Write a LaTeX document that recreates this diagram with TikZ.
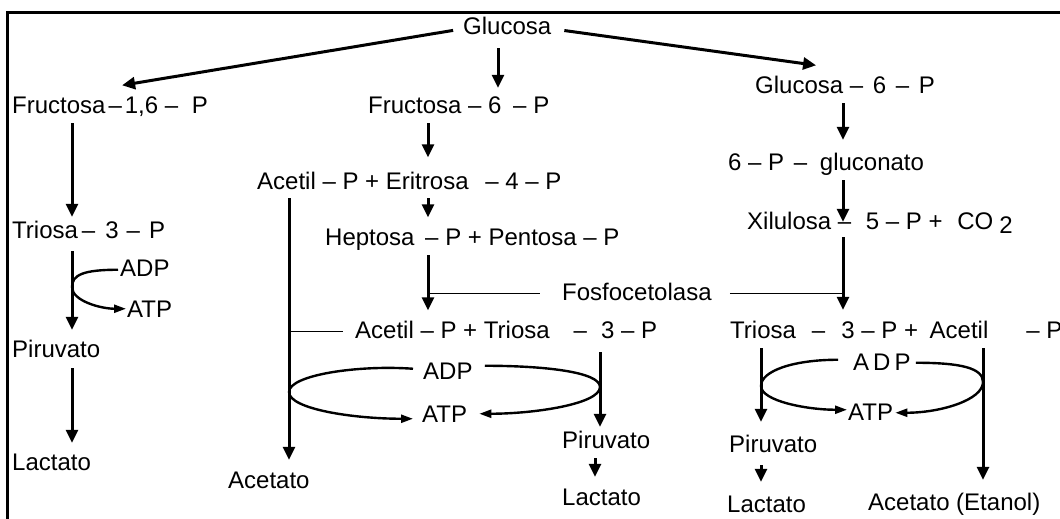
\documentclass[tikz,border=0pt]{standalone}
\usepackage{fontspec}
\setmainfont{Liberation Sans}
\usetikzlibrary{arrows.meta}
\tikzset{
  lbl/.style={font=\fontsize{24}{28}\selectfont, inner sep=0pt, anchor=base west, text height=17.5pt, text depth=5pt},
  arr/.style={line width=3pt, -{Triangle[length=13pt,width=12pt]}},
  thinline/.style={line width=1.3pt},
  cyca/.style={line width=2.4pt, -{Triangle[length=12pt,width=8pt]}},
  frame/.style={line width=3pt}
}
\begin{document}
\begin{tikzpicture}[x=1pt,y=-1pt]
\useasboundingbox (0,0) rectangle (1060,519);
\clip (0,0) rectangle (1060,519);
\fill[white] (0,0) rectangle (1060,519);
\draw[frame] (1075,13) -- (7,13) -- (7,535);

% column coordinates
\coordinate (cA) at (72,0);
\coordinate (cM0) at (498,0);
\coordinate (cM) at (428,0);
\coordinate (cL) at (289,0);
\coordinate (cM2) at (600,0);
\coordinate (cM3) at (595,0);
\coordinate (cR) at (843,0);
\coordinate (cR1) at (761,0);
\coordinate (cR2) at (983,0);

% texts
\node[lbl] (gluc) at (463,35) {Glucosa};
\node[lbl] (f16) at (12,113) {Fructosa\hspace{3pt}–\hspace{3pt}1,6 – \hspace{7pt}P};
\node[lbl] (t3a) at (12,238) {Triosa\hspace{4pt}–\hspace{10pt}3\hspace{8pt}–\hspace{9pt}P};
\node[lbl] (pirL) at (12,357) {Piruvato};
\node[lbl] (lacL) at (12,470) {Lactato};
\node[lbl] (adpL) at (120,276) {ADP};
\node[lbl] (atpL) at (127,317) {ATP};

\node[lbl] (f6p) at (368,113) {Fructosa – 6 \hspace{5pt}– P};
\node[lbl] (acp) at (257,189) {Acetil – P + Eritrosa \hspace{10pt}– 4 – P};
\node[lbl] (hep) at (325,245) {Heptosa \hspace{4pt}– P + Pentosa – P};
\node[lbl] (fosf) at (562,300) {Fosfocetolasa};
\node[lbl] (act3) at (355,338) {Acetil – P + Triosa\hspace{24pt}–\hspace{14pt}3 – P};
\node[lbl] (acet) at (228,488) {Acetato};
\node[lbl] (adpM) at (423,379) {ADP};
\node[lbl] (atpM) at (422,422) {ATP};
\node[lbl] (pirM) at (562,448) {Piruvato};
\node[lbl] (lacM) at (562,505) {Lactato};

\node[lbl] (g6p) at (755,93) {Glucosa – \hspace{3pt}6 \hspace{3pt}– \hspace{3pt}P};
\node[lbl] (gpg) at (728,170) {6 – P \hspace{3pt}– \hspace{6pt}gluconato};
\node[lbl] (xil) at (747,229) {Xilulosa – \hspace{8pt}5 – P + \hspace{8pt}CO\hspace{6pt}\raisebox{-4pt}{2}};
\node[lbl] (tri3r) at (730,338) {Triosa\hspace{16pt}–\hspace{16pt}3 – P + \hspace{5pt}Acetil\hspace{38pt}– P};
\node[lbl] (adpR) at (853,370) {A\kern4pt D\kern4pt P};
\node[lbl] (atpR) at (848,420) {ATP};
\node[lbl] (pirR) at (729,452) {Piruvato};
\node[lbl] (lacR) at (727,512) {Lactato};
\node[lbl] (acetR) at (868,510) {Acetato (Etanol)};

% from Glucosa
\draw[arr,shorten <=10pt] (gluc.west) -- ([xshift=12pt,yshift=10pt]f16.north);
\draw[arr,shorten <=13pt] (gluc.east) -- ([xshift=-29pt,yshift=10pt]g6p.north);
\draw[arr,shorten <=8pt,shorten >=7.5pt] (gluc.south -| cM0) -- (f6p.north -| cM0);

% left column
\draw[arr,shorten <=5pt,shorten >=3.5pt] (f16.south -| cA) -- (t3a.north -| cA);
\draw[arr,shorten <=8pt,shorten >=9.5pt] (t3a.south -| cA) -- (pirL.north -| cA);
\draw[arr,shorten <=6pt,shorten >=9.5pt] (pirL.south -| cA) -- (lacL.north -| cA);
\coordinate (kA) at (72,287);
\draw[cyca] ([xshift=-2pt]adpL.west) .. controls +(-35,0) and +(0,-12) .. (kA) .. controls +(0,14) and +(-25,0) .. ([xshift=-1pt,yshift=2pt]atpL.west);

% middle column
\draw[arr,shorten <=5pt,shorten >=14pt] (f6p.south -| cM) -- (acp.north -| cM);
\draw[arr,shorten <=4pt,shorten >=10pt] (acp.south -| cM) -- (hep.north -| cM);
\draw[arr,shorten <=5pt,shorten >=10pt] (hep.south -| cM) -- (act3.north -| cM);
\draw[thinline] (fosf.west -| cM) -- ([xshift=-22pt]fosf.west);
\draw[thinline] ([xshift=18pt]fosf.east) -- (fosf.east -| cR);
\draw[arr,shorten <=4pt,shorten >=10.5pt] (acp.south -| cL) -- (acet.north -| cL);
\draw[thinline] (act3.west -| cL) -- ([xshift=-12pt]act3.west);
\draw[arr,shorten <=9pt,shorten >=3.5pt] (act3.south -| cM2) -- (pirM.north -| cM2);
\draw[arr,shorten <=5pt,shorten >=10.5pt] (pirM.south -| cM3) -- (lacM.north -| cM3);
\coordinate (kM1) at (289,392);
\coordinate (kM2) at (600,387);
\draw[cyca] ([xshift=-10pt,yshift=4pt]adpM.west) .. controls +(-55,-4) and +(0,-17) .. (kM1) .. controls +(0,17) and +(-60,0) .. ([xshift=-9pt,yshift=-3pt]atpM.west);
\draw[cyca] ([xshift=12pt,yshift=7pt]adpM.east) .. controls +(60,0) and +(0,-15) .. (kM2) .. controls +(0,17) and +(55,0) .. ([xshift=12pt,yshift=2pt]atpM.east);

% right column
\draw[arr,shorten <=5pt,shorten >=12.5pt] (g6p.south -| cR) -- (gpg.north -| cR);
\draw[arr,shorten <=5pt,shorten >=-10.5pt] (gpg.south -| cR) -- (xil.north -| cR);
\draw[arr,shorten <=3pt,shorten >=10.5pt] (xil.south -| cR) -- (tri3r.north -| cR);
\draw[arr,shorten <=5pt,shorten >=12.5pt] (tri3r.south -| cR1) -- (pirR.north -| cR1);
\draw[arr,shorten <=8pt,shorten >=12.5pt] (pirR.south -| cR1) -- (lacR.north -| cR1);
\draw[arr,shorten <=5pt,shorten >=12.5pt] (tri3r.south -| cR2) -- (acetR.north -| cR2);
\coordinate (kR1) at (761,386);
\coordinate (kR2) at (983,382);
\draw[cyca] ([xshift=-15pt,yshift=4pt]adpR.west) .. controls +(-45,0) and +(0,-15) .. (kR1) .. controls +(0,15) and +(-40,0) .. ([xshift=-1pt,yshift=4pt]atpR.west);
\draw[cyca] ([xshift=5pt,yshift=1pt]adpR.east) .. controls +(45,0) and +(0,-14) .. (kR2) .. controls +(0,18) and +(45,0) .. ([xshift=2pt,yshift=1pt]atpR.east);
\end{tikzpicture}
\end{document}
